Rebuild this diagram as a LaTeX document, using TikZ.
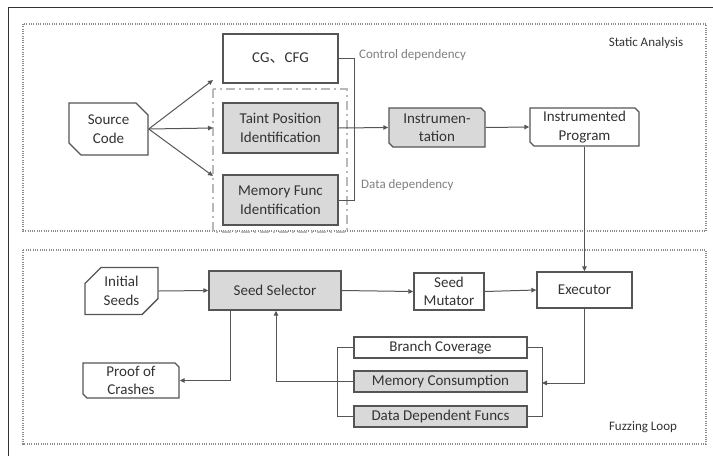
\documentclass[tikz,border=0pt]{standalone}
\usepackage{fontspec}
\setmainfont{Carlito}
\newfontfamily\cjk{Noto Sans CJK SC}
\usetikzlibrary{shapes.misc,arrows.meta}
\definecolor{lineg}{HTML}{555555}
\definecolor{fillg}{HTML}{D9D9D9}
\definecolor{textg}{HTML}{333333}
\begin{document}
\begin{tikzpicture}[x=1pt, y=-1pt,
  every node/.style={font=\fontsize{15}{18.5}\selectfont, text=textg, align=center, inner sep=0pt},
  box/.style={draw=lineg, line width=1.4pt, fill=white},
  greybox/.style={box, fill=fillg},
  card/.style={box, chamfered rectangle, chamfered rectangle corners={north east,south west},
    chamfered rectangle xsep=2pt, chamfered rectangle ysep=2pt},
  seedcard/.style={box, chamfered rectangle, chamfered rectangle corners={north west,south east},
    chamfered rectangle xsep=7pt, chamfered rectangle ysep=9pt},
  arr/.style={draw=lineg, line width=1pt, -{Triangle[length=5pt,width=4.5pt]}},
  wire/.style={draw=lineg, line width=1pt},
  note/.style={font=\fontsize{13}{15}\selectfont, text=gray},
  title/.style={font=\fontsize{13}{15}\selectfont}]
  \useasboundingbox (0,0) rectangle (713,456);
  \draw[textg, line width=1pt] (713,7) -- (8,7) -- (8,456);
  % the two areas
  \draw[gray!90, line width=1.3pt, dash pattern=on 1pt off 1.3pt] (23,24) rectangle (706,231);
  \draw[gray!90, line width=1.3pt, dash pattern=on 1pt off 1.3pt] (23,250) rectangle (706,444);
  \node[title] (sa) at (646,43) {Static Analysis};
  \node[title] (fl) at (643,427) {Fuzzing Loop};
  \draw[gray!55, line width=1.3pt, dash pattern=on 9pt off 4pt on 2pt off 4pt] (213,89) rectangle (347,232);
  % static analysis
  \node[card, chamfered rectangle xsep=6pt, chamfered rectangle ysep=6pt,
    minimum width=79pt, minimum height=52pt] (src) at (108.5,129) {Source\\Code};
  \node[box, minimum width=115pt, minimum height=49pt] (cg) at (280.5,58.5) {CG{\cjk 、}CFG};
  \node[greybox, minimum width=115pt, minimum height=50pt] (taint) at (280.5,128) {Taint Position\\Identification};
  \node[greybox, minimum width=115pt, minimum height=50pt] (memf) at (280.5,200) {Memory Func\\Identification};
  \node[card, fill=fillg, minimum width=96pt, minimum height=39pt] (instr) at (437,127.5) {Instrumen-\\tation};
  \node[card, minimum width=109pt, minimum height=38pt] (prog) at (584.5,127) {Instrumented\\Program};
  \coordinate (t1) at (213,80);
  \coordinate (t2) at (213,128);
  \coordinate (t3) at (213,176);
  \draw[arr] (src.east) -- (t1);
  \draw[arr] (src.east) -- (t2);
  \draw[arr] (src.east) -- (t3);
  \draw[wire] (cg.east) -- ++(16,0) |- (memf.east);
  \draw[arr] (taint.east) -- (instr.west);
  \draw[arr] (instr.east) -- (prog.west);
  \node[note, anchor=west] (cd) at (359,55) {Control dependency};
  \node[note, anchor=west] (dd) at (361,185) {Data dependency};
  % fuzzing loop
  \node[seedcard, minimum width=73pt, minimum height=38pt] (init) at (121.5,291) {Initial\\Seeds};
  \node[greybox, minimum width=132pt, minimum height=39pt] (sel) at (275,290.5) {Seed Selector};
  \node[box, minimum width=70pt, minimum height=37pt] (mut) at (449,291.5) {Seed\\Mutator};
  \node[box, minimum width=95pt, minimum height=36pt] (exe) at (584.5,290) {Executor};
  \node[card, minimum width=96pt, minimum height=35pt] (poc) at (131,380.5) {Proof of\\Crashes};
  \node[box, minimum width=173pt, minimum height=21pt] (bc) at (440.5,347.5) {Branch Coverage};
  \node[greybox, minimum width=173pt, minimum height=21pt] (mc) at (440.5,381.5) {Memory Consumption};
  \node[greybox, minimum width=173pt, minimum height=21pt] (ddf) at (440.5,416.5) {Data Dependent Funcs};
  \draw[arr] (prog.south) -- (exe.north);
  \draw[arr] (init.east) -- (sel.west);
  \draw[arr] (sel.east) -- (mut.west);
  \draw[arr] (mut.east) -- (exe.west);
  \draw[arr] (sel.south -| 230,0) |- (poc.east);
  \draw[wire] (bc.east) -- ++(15,0) |- (ddf.east);
  \draw[wire] (bc.west) -- ++(-16,0) |- (ddf.west);
  \draw[arr] (exe.south) |- (542,383);
  \draw[arr] (mc.west) -| (sel.south -| 276,0);
\end{tikzpicture}
\end{document}
